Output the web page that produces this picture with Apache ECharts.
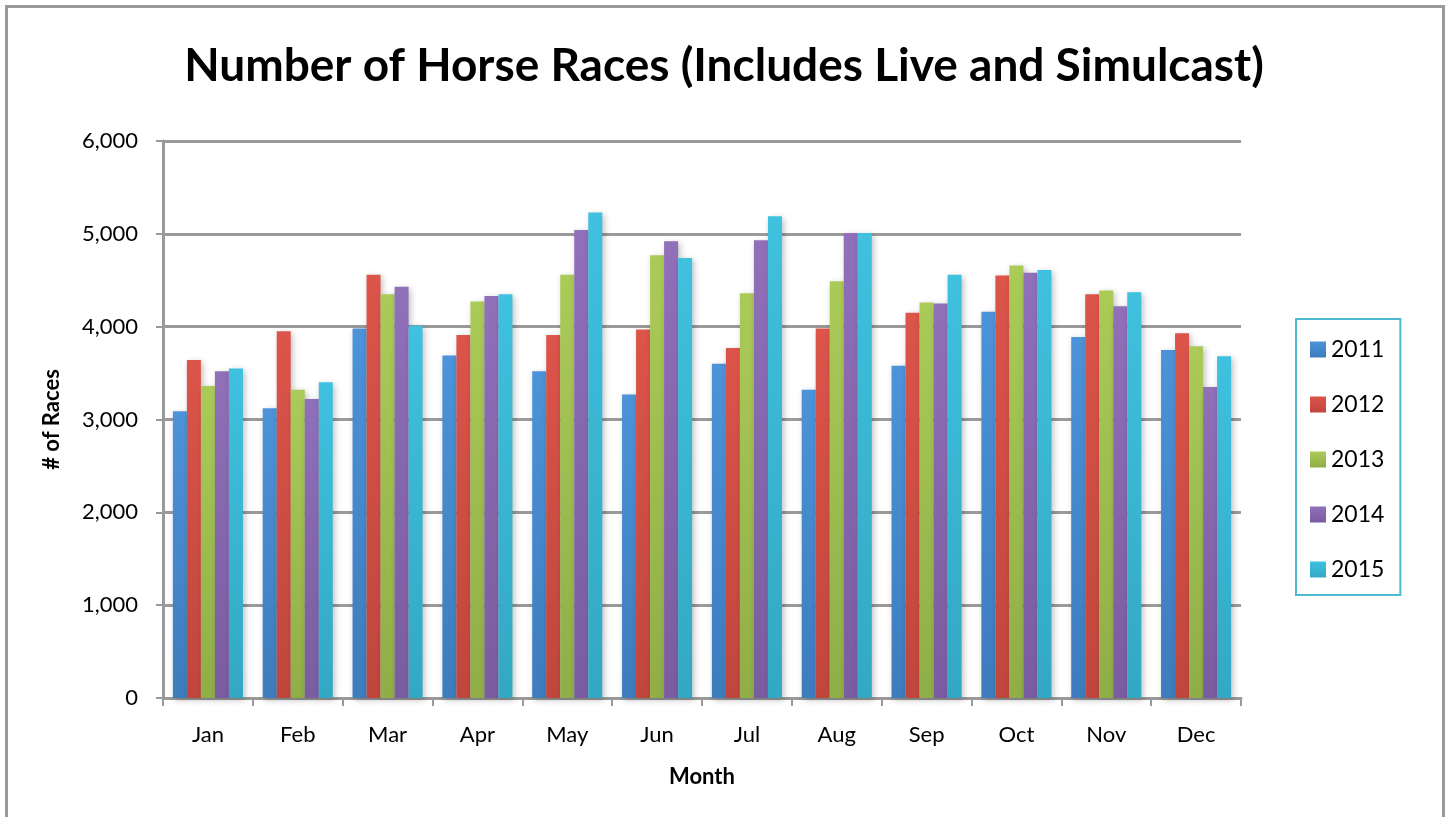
<!DOCTYPE html>
<html>
<head>
<meta charset="utf-8">
<script src="https://cdn.jsdelivr.net/npm/echarts@6/dist/echarts.min.js"></script>
<style>
  html, body { margin: 0; padding: 0; background: #fff; }
  #chart { width: 1448px; height: 817px; }
</style>
</head>
<body>
<div id="chart"></div>
<script>
  'use strict'
  var months = ['Jan', 'Feb', 'Mar', 'Apr', 'May', 'Jun', 'Jul', 'Aug', 'Sep', 'Oct', 'Nov', 'Dec'];
  var years = ['2011', '2012', '2013', '2014', '2015'];
  var races2011 = [3090, 3120, 3980, 3690, 3520, 3270, 3600, 3320, 3580, 4160, 3890, 3750];
  var races2012 = [3640, 3950, 4560, 3910, 3910, 3970, 3770, 3980, 4150, 4550, 4350, 3930];
  var races2013 = [3360, 3320, 4350, 4270, 4560, 4770, 4360, 4490, 4260, 4660, 4390, 3790];
  var races2014 = [3520, 3220, 4430, 4330, 5040, 4920, 4930, 5010, 4250, 4580, 4220, 3350];
  var races2015 = [3550, 3400, 4010, 4350, 5230, 4740, 5190, 5010, 4560, 4610, 4370, 3680];
  var yTicks = [0, 1000, 2000, 3000, 4000, 5000, 6000];

  var allValues = [races2011, races2012, races2013, races2014, races2015];
  var colors = [
    ['#4c93d9', '#3d7cbd'],
    ['#dc544a', '#c0463d'],
    ['#abcb58', '#8fae47'],
    ['#9070b9', '#7a5ca0'],
    ['#3fc1df', '#33a8c4']
  ];

  function grad(i) {
    return new echarts.graphic.LinearGradient(0, 0, 0, 1, [
      { offset: 0, color: colors[i][0] },
      { offset: 1, color: colors[i][1] }
    ]);
  }

  var series = years.map(function (y, i) {
    return {
      name: y,
      type: 'bar',
      data: allValues[i],
      barGap: '0%',
      barCategoryGap: '22%',
      itemStyle: {
        color: grad(i),
        shadowColor: 'rgba(0,0,0,0.25)',
        shadowBlur: 6,
        shadowOffsetX: 2,
        shadowOffsetY: 2
      }
    };
  });

  var chart = echarts.init(document.getElementById('chart'));
  var option = {
    animation: false,
    backgroundColor: '#fff',
    color: colors.map(function (c) { return c[0]; }),
    title: {
      text: 'Number of Horse Races (Includes Live and Simulcast)',
      left: 'center',
      top: 38,
      textStyle: { fontFamily: 'Lato', fontWeight: 'bold', fontSize: 46, color: '#000' }
    },
    grid: { left: 163, right: 207, top: 141, bottom: 119, containLabel: false },
    legend: {
      orient: 'vertical',
      left: 1296,
      top: 319,
      padding: [19, 16, 14, 14],
      itemGap: 32,
      itemWidth: 16,
      itemHeight: 16,
      icon: 'rect',
      borderColor: '#4cb9d1',
      borderWidth: 2,
      textStyle: { fontFamily: 'Lato', fontSize: 23, color: '#000' },
      data: years.map(function (y, i) {
        return { name: y, itemStyle: { color: grad(i) } };
      })
    },
    xAxis: {
      type: 'category',
      data: months,
      name: 'Month',
      nameLocation: 'middle',
      nameGap: 68,
      nameTextStyle: { fontFamily: 'Lato', fontWeight: 'bold', fontSize: 22, color: '#000' },
      axisLine: { lineStyle: { color: '#999', width: 3 } },
      axisTick: { show: true, length: 8, alignWithLabel: false, lineStyle: { color: '#999', width: 2 } },
      axisLabel: { fontFamily: 'Lato', fontSize: 22, color: '#000', margin: 26 }
    },
    yAxis: {
      type: 'value',
      min: yTicks[0],
      max: yTicks[yTicks.length - 1],
      interval: 1000,
      name: '# of Races',
      nameLocation: 'middle',
      nameGap: 100,
      nameTextStyle: { fontFamily: 'Lato', fontWeight: 'bold', fontSize: 22, color: '#000' },
      axisLine: { show: true, lineStyle: { color: '#999', width: 3 } },
      axisTick: { show: true, length: 7, lineStyle: { color: '#999', width: 2 } },
      axisLabel: {
        fontFamily: 'Lato', fontSize: 22, color: '#000', margin: 25,
        formatter: function (v) { return v.toLocaleString('en-US'); }
      },
      splitLine: { lineStyle: { color: '#9a9a9a', width: 3 } }
    },
    graphic: [{
      type: 'rect',
      left: 4, top: 4,
      shape: { width: 1437, height: 830 },
      style: { fill: 'none', stroke: '#9a9a9a', lineWidth: 3 },
      silent: true
    }],
    series: series
  };
  chart.setOption(option);
</script>
</body>
</html>
